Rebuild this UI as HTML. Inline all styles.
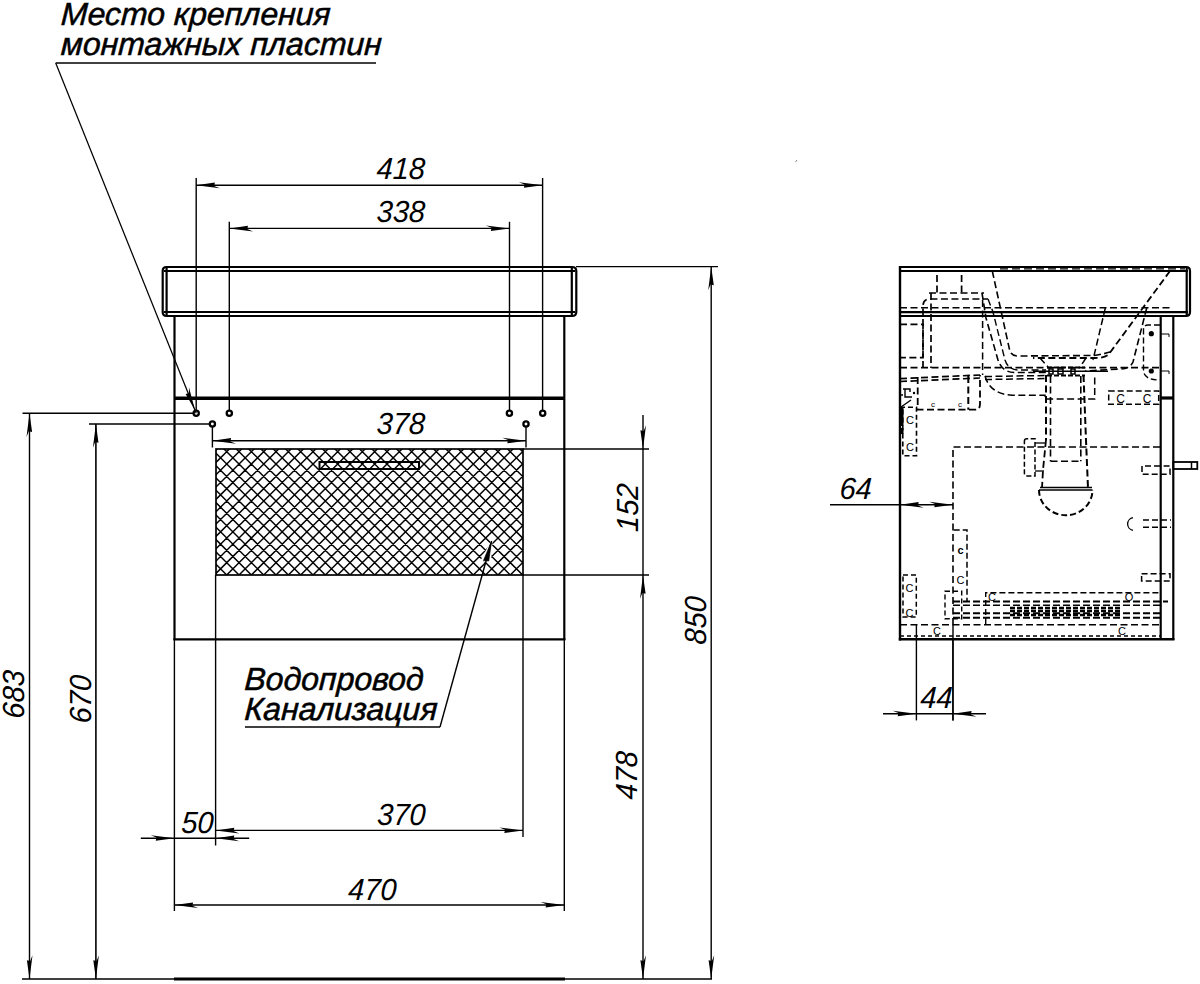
<!DOCTYPE html>
<html><head><meta charset="utf-8"><style>
html,body{margin:0;padding:0;background:#fff;width:1200px;height:984px;overflow:hidden}
svg{display:block}
svg text{font-family:"Liberation Sans",sans-serif;font-style:italic}
svg text.s{font-style:normal}
</style></head><body>
<svg width="1200" height="984" viewBox="0 0 1200 984">
<rect x="0" y="0" width="1200" height="984" fill="#fff" stroke="none"/>
<g stroke="#000" fill="none">
<text x="0" y="0" font-size="32" text-anchor="start" transform="translate(60.5,24.8) skewX(-3)" fill="#000" stroke="#000" stroke-width="0.5">Место крепления</text>
<text x="0" y="0" font-size="32" text-anchor="start" transform="translate(60.5,54.8) skewX(-3)" fill="#000" stroke="#000" stroke-width="0.5">монтажных пластин</text>
<line x1="55.7" y1="63" x2="376" y2="63" stroke-width="1.5" />
<line x1="55.7" y1="63" x2="196.2" y2="413.3" stroke-width="1.25" />
<path transform="translate(195.01,410.33) rotate(68.15)" d="M0,0 L-23.7,-3 L-18,-0.7 L-18.7,2.6 Z" fill="#000" stroke="none"/>
<path d="M166.5,267 L572,267 Q576.3,267 576.3,271 L576.3,312 Q576.3,316 572,316 L166.5,316 Q162.7,316 162.7,312 L162.7,271 Q162.7,267 166.5,267 Z" stroke-width="2.2" />
<line x1="164" y1="271" x2="575" y2="271" stroke-width="2.2" />
<line x1="164" y1="312" x2="575" y2="312" stroke-width="2.2" />
<line x1="166.6" y1="268" x2="166.6" y2="315" stroke-width="2.2" />
<line x1="571.8" y1="268" x2="571.8" y2="315" stroke-width="2.2" />
<line x1="174.5" y1="316" x2="174.5" y2="640" stroke-width="2.2" />
<line x1="564.3" y1="316" x2="564.3" y2="640" stroke-width="2.2" />
<line x1="173.4" y1="639.3" x2="565.4" y2="639.3" stroke-width="2.2" />
<line x1="174.5" y1="398.3" x2="564.3" y2="398.3" stroke-width="3.4" />
<line x1="196.2" y1="178" x2="196.2" y2="410.2" stroke-width="1.4" />
<line x1="542.6" y1="178" x2="542.6" y2="410.2" stroke-width="1.4" />
<line x1="196.2" y1="185.2" x2="542.6" y2="185.2" stroke-width="1.4" />
<path transform="translate(196.2,185.2) rotate(180)" d="M0,0 L-23.7,-3 L-18,-0.7 L-18.7,2.6 Z" fill="#000" stroke="none"/>
<path transform="translate(542.6,185.2) rotate(0)" d="M0,0 L-23.7,-3 L-18,-0.7 L-18.7,2.6 Z" fill="#000" stroke="none"/>
<line x1="229.3" y1="221.8" x2="229.3" y2="410.2" stroke-width="1.4" />
<line x1="509.5" y1="221.8" x2="509.5" y2="410.2" stroke-width="1.4" />
<line x1="229.3" y1="228.4" x2="509.5" y2="228.4" stroke-width="1.4" />
<path transform="translate(229.3,228.4) rotate(180)" d="M0,0 L-23.7,-3 L-18,-0.7 L-18.7,2.6 Z" fill="#000" stroke="none"/>
<path transform="translate(509.5,228.4) rotate(0)" d="M0,0 L-23.7,-3 L-18,-0.7 L-18.7,2.6 Z" fill="#000" stroke="none"/>
<circle cx="196.2" cy="413.3" r="2.6" stroke-width="2.3"/>
<circle cx="229.3" cy="413.3" r="2.6" stroke-width="2.3"/>
<circle cx="509.4" cy="413.3" r="2.6" stroke-width="2.3"/>
<circle cx="542.7" cy="413.3" r="2.6" stroke-width="2.3"/>
<circle cx="212.4" cy="424" r="2.6" stroke-width="2.3"/>
<circle cx="526" cy="424" r="2.6" stroke-width="2.3"/>
<line x1="212.4" y1="427.1" x2="212.4" y2="447.5" stroke-width="1.4" />
<line x1="526" y1="427.1" x2="526" y2="447.5" stroke-width="1.4" />
<line x1="212.4" y1="440.7" x2="526" y2="440.7" stroke-width="1.4" />
<path transform="translate(212.4,440.7) rotate(180)" d="M0,0 L-23.7,-3 L-18,-0.7 L-18.7,2.6 Z" fill="#000" stroke="none"/>
<path transform="translate(526,440.7) rotate(0)" d="M0,0 L-23.7,-3 L-18,-0.7 L-18.7,2.6 Z" fill="#000" stroke="none"/>
<line x1="22.5" y1="413.3" x2="193" y2="413.3" stroke-width="1.4" />
<line x1="29.5" y1="413.3" x2="29.5" y2="979" stroke-width="1.4" />
<path transform="translate(29.5,413.3) rotate(-90)" d="M0,0 L-23.7,-3 L-18,-0.7 L-18.7,2.6 Z" fill="#000" stroke="none"/>
<path transform="translate(29.5,979) rotate(90)" d="M0,0 L-23.7,-3 L-18,-0.7 L-18.7,2.6 Z" fill="#000" stroke="none"/>
<line x1="89" y1="424" x2="209.3" y2="424" stroke-width="1.4" />
<line x1="95.9" y1="424" x2="95.9" y2="979" stroke-width="1.6" />
<path transform="translate(95.9,424) rotate(-90)" d="M0,0 L-23.7,-3 L-18,-0.7 L-18.7,2.6 Z" fill="#000" stroke="none"/>
<path transform="translate(95.9,979) rotate(90)" d="M0,0 L-23.7,-3 L-18,-0.7 L-18.7,2.6 Z" fill="#000" stroke="none"/>
<line x1="22" y1="979" x2="712" y2="979" stroke-width="1.4" />
<line x1="174" y1="979" x2="565" y2="979" stroke-width="3.2" />
<line x1="576" y1="266.6" x2="718" y2="266.6" stroke-width="1.4" />
<line x1="711.2" y1="266.6" x2="711.2" y2="979" stroke-width="1.4" />
<path transform="translate(711.2,266.6) rotate(-90)" d="M0,0 L-23.7,-3 L-18,-0.7 L-18.7,2.6 Z" fill="#000" stroke="none"/>
<path transform="translate(711.2,979) rotate(90)" d="M0,0 L-23.7,-3 L-18,-0.7 L-18.7,2.6 Z" fill="#000" stroke="none"/>
<line x1="523" y1="449" x2="649" y2="449" stroke-width="1.4" />
<line x1="523" y1="575" x2="649" y2="575" stroke-width="1.4" />
<line x1="643" y1="415" x2="643" y2="979" stroke-width="1.4" />
<path transform="translate(643,449) rotate(90)" d="M0,0 L-23.7,-3 L-18,-0.7 L-18.7,2.6 Z" fill="#000" stroke="none"/>
<path transform="translate(643,575) rotate(-90)" d="M0,0 L-23.7,-3 L-18,-0.7 L-18.7,2.6 Z" fill="#000" stroke="none"/>
<path transform="translate(643,979) rotate(90)" d="M0,0 L-23.7,-3 L-18,-0.7 L-18.7,2.6 Z" fill="#000" stroke="none"/>
<clipPath id="hc"><rect x="216" y="449" width="307" height="126"/></clipPath>
<path clip-path="url(#hc)" stroke-width="1.45" d="M-524.80,440 L-379.80,585 M-512.47,440 L-367.47,585 M-500.14,440 L-355.14,585 M-487.81,440 L-342.81,585 M-475.48,440 L-330.48,585 M-463.15,440 L-318.15,585 M-450.82,440 L-305.82,585 M-438.49,440 L-293.49,585 M-426.16,440 L-281.16,585 M-413.83,440 L-268.83,585 M-401.50,440 L-256.50,585 M-389.17,440 L-244.17,585 M-376.84,440 L-231.84,585 M-364.51,440 L-219.51,585 M-352.18,440 L-207.18,585 M-339.85,440 L-194.85,585 M-327.52,440 L-182.52,585 M-315.19,440 L-170.19,585 M-302.86,440 L-157.86,585 M-290.53,440 L-145.53,585 M-278.20,440 L-133.20,585 M-265.87,440 L-120.87,585 M-253.54,440 L-108.54,585 M-241.21,440 L-96.21,585 M-228.88,440 L-83.88,585 M-216.55,440 L-71.55,585 M-204.22,440 L-59.22,585 M-191.89,440 L-46.89,585 M-179.56,440 L-34.56,585 M-167.23,440 L-22.23,585 M-154.90,440 L-9.90,585 M-142.57,440 L2.43,585 M-130.24,440 L14.76,585 M-117.91,440 L27.09,585 M-105.58,440 L39.42,585 M-93.25,440 L51.75,585 M-80.92,440 L64.08,585 M-68.59,440 L76.41,585 M-56.26,440 L88.74,585 M-43.93,440 L101.07,585 M-31.60,440 L113.40,585 M-19.27,440 L125.73,585 M-6.94,440 L138.06,585 M5.39,440 L150.39,585 M17.72,440 L162.72,585 M30.05,440 L175.05,585 M42.38,440 L187.38,585 M54.71,440 L199.71,585 M67.04,440 L212.04,585 M79.37,440 L224.37,585 M91.70,440 L236.70,585 M104.03,440 L249.03,585 M116.36,440 L261.36,585 M128.69,440 L273.69,585 M141.02,440 L286.02,585 M153.35,440 L298.35,585 M165.68,440 L310.68,585 M178.01,440 L323.01,585 M190.34,440 L335.34,585 M202.67,440 L347.67,585 M215.00,440 L360.00,585 M227.33,440 L372.33,585 M239.66,440 L384.66,585 M251.99,440 L396.99,585 M264.32,440 L409.32,585 M276.65,440 L421.65,585 M288.98,440 L433.98,585 M301.31,440 L446.31,585 M313.64,440 L458.64,585 M325.97,440 L470.97,585 M338.30,440 L483.30,585 M350.63,440 L495.63,585 M362.96,440 L507.96,585 M375.29,440 L520.29,585 M387.62,440 L532.62,585 M399.95,440 L544.95,585 M412.28,440 L557.28,585 M424.61,440 L569.61,585 M436.94,440 L581.94,585 M449.27,440 L594.27,585 M461.60,440 L606.60,585 M473.93,440 L618.93,585 M486.26,440 L631.26,585 M498.59,440 L643.59,585 M510.92,440 L655.92,585 M523.25,440 L668.25,585 M-501.40,440 L-646.40,585 M-489.07,440 L-634.07,585 M-476.74,440 L-621.74,585 M-464.41,440 L-609.41,585 M-452.08,440 L-597.08,585 M-439.75,440 L-584.75,585 M-427.42,440 L-572.42,585 M-415.09,440 L-560.09,585 M-402.76,440 L-547.76,585 M-390.43,440 L-535.43,585 M-378.10,440 L-523.10,585 M-365.77,440 L-510.77,585 M-353.44,440 L-498.44,585 M-341.11,440 L-486.11,585 M-328.78,440 L-473.78,585 M-316.45,440 L-461.45,585 M-304.12,440 L-449.12,585 M-291.79,440 L-436.79,585 M-279.46,440 L-424.46,585 M-267.13,440 L-412.13,585 M-254.80,440 L-399.80,585 M-242.47,440 L-387.47,585 M-230.14,440 L-375.14,585 M-217.81,440 L-362.81,585 M-205.48,440 L-350.48,585 M-193.15,440 L-338.15,585 M-180.82,440 L-325.82,585 M-168.49,440 L-313.49,585 M-156.16,440 L-301.16,585 M-143.83,440 L-288.83,585 M-131.50,440 L-276.50,585 M-119.17,440 L-264.17,585 M-106.84,440 L-251.84,585 M-94.51,440 L-239.51,585 M-82.18,440 L-227.18,585 M-69.85,440 L-214.85,585 M-57.52,440 L-202.52,585 M-45.19,440 L-190.19,585 M-32.86,440 L-177.86,585 M-20.53,440 L-165.53,585 M-8.20,440 L-153.20,585 M4.13,440 L-140.87,585 M16.46,440 L-128.54,585 M28.79,440 L-116.21,585 M41.12,440 L-103.88,585 M53.45,440 L-91.55,585 M65.78,440 L-79.22,585 M78.11,440 L-66.89,585 M90.44,440 L-54.56,585 M102.77,440 L-42.23,585 M115.10,440 L-29.90,585 M127.43,440 L-17.57,585 M139.76,440 L-5.24,585 M152.09,440 L7.09,585 M164.42,440 L19.42,585 M176.75,440 L31.75,585 M189.08,440 L44.08,585 M201.41,440 L56.41,585 M213.74,440 L68.74,585 M226.07,440 L81.07,585 M238.40,440 L93.40,585 M250.73,440 L105.73,585 M263.06,440 L118.06,585 M275.39,440 L130.39,585 M287.72,440 L142.72,585 M300.05,440 L155.05,585 M312.38,440 L167.38,585 M324.71,440 L179.71,585 M337.04,440 L192.04,585 M349.37,440 L204.37,585 M361.70,440 L216.70,585 M374.03,440 L229.03,585 M386.36,440 L241.36,585 M398.69,440 L253.69,585 M411.02,440 L266.02,585 M423.35,440 L278.35,585 M435.68,440 L290.68,585 M448.01,440 L303.01,585 M460.34,440 L315.34,585 M472.67,440 L327.67,585 M485.00,440 L340.00,585 M497.33,440 L352.33,585 M509.66,440 L364.66,585 M521.99,440 L376.99,585 M534.32,440 L389.32,585 M546.65,440 L401.65,585 M558.98,440 L413.98,585 M571.31,440 L426.31,585 M583.64,440 L438.64,585 M595.97,440 L450.97,585 M608.30,440 L463.30,585 M620.63,440 L475.63,585 M632.96,440 L487.96,585 M645.29,440 L500.29,585 M657.62,440 L512.62,585"/>
<rect x="216" y="449" width="307" height="126" stroke-width="1.7"/>
<rect x="319.5" y="462" width="99.5" height="7" stroke-width="2"/>
<path transform="translate(491.6,541) rotate(-74.49)" d="M4,0 L-22,-5.5 L-22,5.5 Z" fill="#fff" stroke="none"/>
<line x1="440" y1="727" x2="491.6" y2="541" stroke-width="1.4" />
<path transform="translate(491.6,541) rotate(-74.49)" d="M0,0 L-21,-2.6 L-20,2.6 Z" fill="#000" stroke="#000" stroke-width="0.6"/>
<line x1="245" y1="727" x2="440" y2="727" stroke-width="1.4" />
<text x="0" y="0" font-size="32" text-anchor="start" transform="translate(244,689.6) skewX(-3)" fill="#000" stroke="#000" stroke-width="0.5">Водопровод</text>
<text x="0" y="0" font-size="32" text-anchor="start" transform="translate(244,719.6) skewX(-3)" fill="#000" stroke="#000" stroke-width="0.5">Канализация</text>
<line x1="174.4" y1="640" x2="174.4" y2="911" stroke-width="1.4" />
<line x1="215.6" y1="575" x2="215.6" y2="845.5" stroke-width="1.4" />
<line x1="140.8" y1="838.2" x2="249.2" y2="838.2" stroke-width="1.4" />
<path transform="translate(174.4,838.2) rotate(0)" d="M0,0 L-23.7,-3 L-18,-0.7 L-18.7,2.6 Z" fill="#000" stroke="none"/>
<path transform="translate(215.6,838.2) rotate(180)" d="M0,0 L-23.7,-3 L-18,-0.7 L-18.7,2.6 Z" fill="#000" stroke="none"/>
<line x1="523" y1="575" x2="523" y2="837" stroke-width="1.4" />
<line x1="215.6" y1="830.4" x2="523" y2="830.4" stroke-width="1.4" />
<path transform="translate(215.6,830.4) rotate(180)" d="M0,0 L-23.7,-3 L-18,-0.7 L-18.7,2.6 Z" fill="#000" stroke="none"/>
<path transform="translate(523,830.4) rotate(0)" d="M0,0 L-23.7,-3 L-18,-0.7 L-18.7,2.6 Z" fill="#000" stroke="none"/>
<line x1="564.3" y1="640" x2="564.3" y2="911" stroke-width="1.4" />
<line x1="174.4" y1="905" x2="564.3" y2="905" stroke-width="1.4" />
<path transform="translate(174.4,905) rotate(180)" d="M0,0 L-23.7,-3 L-18,-0.7 L-18.7,2.6 Z" fill="#000" stroke="none"/>
<path transform="translate(564.3,905) rotate(0)" d="M0,0 L-23.7,-3 L-18,-0.7 L-18.7,2.6 Z" fill="#000" stroke="none"/>
<text x="0" y="0" font-size="30.5" text-anchor="middle" transform="translate(400.5,178.6) scale(0.95,1) skewX(-3)" fill="#000" stroke="none" >418</text>
<text x="0" y="0" font-size="30.5" text-anchor="middle" transform="translate(400.5,221.5) scale(0.95,1) skewX(-3)" fill="#000" stroke="none" >338</text>
<text x="0" y="0" font-size="30.5" text-anchor="middle" transform="translate(400.5,434.3) scale(0.95,1) skewX(-3)" fill="#000" stroke="none" >378</text>
<text x="0" y="0" font-size="30.5" text-anchor="middle" transform="translate(197,832.5) scale(0.95,1) skewX(-3)" fill="#000" stroke="none" >50</text>
<text x="0" y="0" font-size="30.5" text-anchor="middle" transform="translate(401,825) scale(0.95,1) skewX(-3)" fill="#000" stroke="none" >370</text>
<text x="0" y="0" font-size="30.5" text-anchor="middle" transform="translate(372,900) scale(0.95,1) skewX(-3)" fill="#000" stroke="none" >470</text>
<text x="0" y="0" font-size="30.5" text-anchor="middle" transform="translate(23.9,694.8) rotate(-90) scale(0.95,1) skewX(-3)" fill="#000" stroke="none" >683</text>
<text x="0" y="0" font-size="30.5" text-anchor="middle" transform="translate(90.8,699.5) rotate(-90) scale(0.95,1) skewX(-3)" fill="#000" stroke="none" >670</text>
<text x="0" y="0" font-size="30.5" text-anchor="middle" transform="translate(638.4,508) rotate(-90) scale(0.95,1) skewX(-3)" fill="#000" stroke="none" >152</text>
<text x="0" y="0" font-size="30.5" text-anchor="middle" transform="translate(637.4,775.8) rotate(-90) scale(0.95,1) skewX(-3)" fill="#000" stroke="none" >478</text>
<text x="0" y="0" font-size="30.5" text-anchor="middle" transform="translate(706,620.8) rotate(-90) scale(0.95,1) skewX(-3)" fill="#000" stroke="none" >850</text>
<text x="0" y="0" font-size="30.5" text-anchor="middle" transform="translate(855.3,499) scale(0.95,1) skewX(-3)" fill="#000" stroke="none" >64</text>
<text x="0" y="0" font-size="30.5" text-anchor="middle" transform="translate(936,707.8) scale(0.95,1) skewX(-3)" fill="#000" stroke="none" >44</text>
<line x1="795.5" y1="162" x2="797" y2="160" stroke="#888" stroke-width="1"/>
<path d="M900,267 L1186,267 Q1190,267 1190,271 L1190,312 Q1190,316 1186,316 L900,316" stroke-width="2.2" />
<line x1="900" y1="271" x2="1188" y2="271" stroke-width="2.2" />
<line x1="900" y1="312.2" x2="1188" y2="312.2" stroke-width="2.2" />
<line x1="1186.7" y1="268" x2="1186.7" y2="315" stroke-width="2.2" />
<line x1="1000" y1="268.8" x2="1185" y2="268.8" stroke-width="1.2" stroke-dasharray="8 4" />
<line x1="900" y1="266" x2="900" y2="640.5" stroke-width="2.4" />
<line x1="898.8" y1="639.3" x2="1174.5" y2="639.3" stroke-width="2.4" />
<line x1="1160.7" y1="316" x2="1160.7" y2="640" stroke-width="2.2" />
<line x1="1173.3" y1="316" x2="1173.3" y2="640" stroke-width="2.2" />
<line x1="1160.7" y1="398" x2="1173.3" y2="398" stroke-width="3.2" />
<rect x="1173.3" y="462" width="24" height="7" stroke-width="1.8"/>
<line x1="1191.5" y1="462" x2="1191.5" y2="469" stroke-width="1.5" />
<line x1="900" y1="307.8" x2="1173" y2="307.8" stroke-width="1.6" stroke-dasharray="7 3.5" />
<line x1="937" y1="275" x2="937" y2="293" stroke-width="1.7" stroke-dasharray="7 3.5" />
<line x1="961.6" y1="275" x2="961.6" y2="293" stroke-width="1.7" stroke-dasharray="7 3.5" />
<path d="M929,293 L984,293" stroke-width="1.7" stroke-dasharray="7 3.5" />
<path d="M923,368 L923,306 Q923,299 930,299 L988,299" stroke-width="1.7" stroke-dasharray="7 3.5" />
<line x1="931" y1="293" x2="931" y2="368" stroke-width="1.7" stroke-dasharray="7 3.5" />
<path d="M900,324.3 L923,324.3 L923,357.7 L900,357.7" stroke-width="1.7" stroke-dasharray="7 3.5" />
<line x1="900" y1="367.6" x2="1160" y2="367.6" stroke-width="1.6" stroke-dasharray="7 3.5" />
<path d="M982,293 L986,318 L998,360 Q1002,372 1014,372.5 L1046,372.5" stroke-width="1.6" stroke-dasharray="7 3.5" />
<path d="M988,299 L993,312 L1005,360 Q1008,369.5 1018,370 L1046,370" stroke-width="1.4" stroke-dasharray="7 3.5" />
<path d="M992.3,271 L1009.6,350 Q1011,356 1018,356 L1093,355.5 Q1100,355 1110,352" stroke-width="1.6" stroke-dasharray="7 3.5" />
<path d="M1170,271 L1109,354 Q1105,358 1095,358 L1033,358" stroke-width="1.8" stroke-dasharray="7 3.5" />
<path d="M1105.3,308 L1093,360" stroke-width="1.5" stroke-dasharray="7 3.5" />
<path d="M1146.7,308 L1133,362 Q1130,369 1120,369 L1085,371" stroke-width="1.6" stroke-dasharray="7 3.5" />
<line x1="1047" y1="367.5" x2="1085" y2="367.5" stroke-width="2.2" stroke-dasharray="5 2" />
<line x1="1047" y1="375.5" x2="1085" y2="375.5" stroke-width="2.2" stroke-dasharray="5 2" />
<path d="M1058,369 h5 v5 h-5 Z M1071,369 h4 v5 h-4 Z M1049,369 h4 v5 h-4 Z" stroke-width="1.5"/>
<line x1="1033" y1="371.3" x2="1108" y2="371.3" stroke-width="1.6" />
<path d="M1040,358 L1048,367" stroke-width="1.5" stroke-dasharray="7 3.5" />
<path d="M1086,358 L1080,367" stroke-width="1.5" stroke-dasharray="7 3.5" />
<path d="M917.7,377 L917.7,409.7 L975,409.7 Q980,409.7 980,404 L980,375" stroke-width="1.8" stroke-dasharray="7 3.5"/>
<line x1="968.3" y1="376" x2="968.3" y2="409.7" stroke-width="2" stroke-dasharray="7 3.5" />
<line x1="900" y1="378.6" x2="980" y2="375" stroke-width="1.7" stroke-dasharray="7 3.5" />
<line x1="900" y1="381.5" x2="980" y2="378" stroke-width="1.7" stroke-dasharray="7 3.5" />
<path d="M985,376 Q990,394 1012,395.3 L1045,395.3 L1045,399 L1094.7,399 L1094.7,374" stroke-width="1.5" stroke-dasharray="7 3.5" />
<line x1="982.6" y1="300" x2="982.6" y2="375" stroke-width="1.5" stroke-dasharray="7 3.5" />
<line x1="985" y1="376.5" x2="1046" y2="375.5" stroke-width="1.5" stroke-dasharray="7 3.5" />
<line x1="985" y1="379.5" x2="1046" y2="378.5" stroke-width="1.5" stroke-dasharray="7 3.5" />
<line x1="1046" y1="375" x2="1046" y2="440" stroke-width="2" stroke-dasharray="7 3.5" />
<line x1="1050.5" y1="376" x2="1050.5" y2="461.2" stroke-width="1.6" stroke-dasharray="7 3.5" />
<line x1="1080.8" y1="376" x2="1080.8" y2="461.2" stroke-width="1.6" stroke-dasharray="7 3.5" />
<line x1="1050.5" y1="461.2" x2="1080.8" y2="461.2" stroke-width="1.6" stroke-dasharray="7 3.5" />
<path d="M1083.5,375 L1086,440 L1088,488" stroke-width="2" stroke-dasharray="7 3.5" />
<path d="M1046,440 L1043,470 L1042,488" stroke-width="1.8" stroke-dasharray="7 3.5" />
<path d="M1024.4,441 Q1024.4,438.8 1027,438.8 L1035,438.8 L1035,475.9 L1027,475.9 Q1024.4,475.9 1024.4,473 Z" stroke-width="1.5" stroke-dasharray="5 2.5" />
<line x1="1035" y1="443" x2="1046" y2="443" stroke-width="1.3" />
<line x1="1035" y1="471" x2="1044" y2="471" stroke-width="1.3" />
<path d="M1039,490 L1092.5,490 M1040,487.5 L1092,487.5" stroke-width="1.6"/>
<path d="M1039,490 A26.5,25 0 0 0 1092.5,490" stroke-width="2" stroke-dasharray="6 3" />
<path d="M900,407.2 L916.5,407.2 L916.5,455.7 L902.8,455.7 L902.8,407.2" stroke-width="1.6" stroke-dasharray="5 3" />
<text x="910" y="424" font-size="11" text-anchor="middle" class="s" fill="#000" stroke="none">C</text>
<text x="910" y="450.5" font-size="11" text-anchor="middle" class="s" fill="#000" stroke="none">C</text>
<rect x="900" y="407.5" width="3.5" height="18.5" fill="#000" stroke="none"/>
<rect x="900" y="428" width="3.5" height="6" fill="#000" stroke="none"/>
<path d="M903,389 L910,389 L910,392 M905,389 L905,397 L912,397 M911,400 L901,407" stroke-width="1.4" />
<circle cx="914" cy="393" r="1.2" fill="#000" stroke="none"/>
<line x1="900" y1="395" x2="903" y2="395" stroke-width="1.5" />
<path d="M903,575 L916.3,575 L916.3,617 L903,617 Z" stroke-width="1.5" stroke-dasharray="5 3" />
<text x="909.5" y="592" font-size="11" text-anchor="middle" class="s" fill="#000" stroke="none">C</text>
<text x="909.5" y="617" font-size="11" text-anchor="middle" class="s" fill="#000" stroke="none">C</text>
<text x="933" y="407" font-size="8" text-anchor="middle" class="s" fill="#000" stroke="none">c</text>
<text x="960" y="407" font-size="8" text-anchor="middle" class="s" fill="#000" stroke="none">c</text>
<path d="M953,625 L953,447 L1160,447" stroke-width="1.6" stroke-dasharray="7 3.5" />
<line x1="953" y1="625" x2="953" y2="720.4" stroke-width="1.4" />
<path d="M1108.7,391 L1158.7,391 L1158.7,404.3 L1108.7,404.3 Z" stroke-width="1.5" stroke-dasharray="6 3" />
<text x="1120.5" y="402.5" font-size="12" text-anchor="middle" class="s" fill="#000" stroke="none">C</text>
<text x="1147" y="402.5" font-size="12" text-anchor="middle" class="s" fill="#000" stroke="none">C</text>
<path d="M1160,325 L1148,325 Q1143.5,325 1143.5,330 L1143.5,370 Q1143.5,380 1160,380" stroke-width="1.4" stroke-dasharray="6 3" />
<circle cx="1151.3" cy="333.7" r="2.6" fill="#000" stroke="none"/>
<circle cx="1151.3" cy="371" r="2.6" fill="#000" stroke="none"/>
<path d="M1161,334 L1169,334 L1169,337" stroke-width="1" />
<path d="M1161,371 L1169,371 L1169,374" stroke-width="1" />
<path d="M1160,466 L1142,466 L1142,474.3 L1170,474.3 L1170,466 L1160,466" stroke-width="1.5" stroke-dasharray="6 3" />
<path d="M1143,520 L1171,520 M1143,527.3 L1171,527.3" stroke-width="1.5" stroke-dasharray="6 3" />
<path d="M1133,517.6 A6.5,6.5 0 0 0 1133,530.4" stroke-width="1.3" />
<path d="M1141.6,573.7 L1170,573.7 L1170,581 L1141.6,581 Z" stroke-width="1.5" stroke-dasharray="6 3" />
<path d="M953.7,530 L967,530 L967,601" stroke-width="1.5" stroke-dasharray="6 3" />
<text x="960.5" y="554" font-size="11" text-anchor="middle" font-weight="bold" class="s" fill="#000" stroke="none">c</text>
<text x="960.5" y="584" font-size="11" text-anchor="middle" class="s" fill="#000" stroke="none">C</text>
<path d="M945,591.3 L961.7,591.3 L961.7,618.7 L945,618.7 Z" stroke-width="1.4" stroke-dasharray="5 3" />
<path d="M985.7,624 L985.7,592.7 L1160,592.7" stroke-width="1.4" stroke-dasharray="6 3" />
<line x1="953" y1="601.5" x2="1168" y2="601.5" stroke-width="2" stroke-dasharray="7 3" />
<line x1="953" y1="605.3" x2="1160" y2="605.3" stroke-width="1.6" stroke-dasharray="7 3" />
<line x1="953" y1="613.3" x2="1160" y2="613.3" stroke-width="2" stroke-dasharray="7 3" />
<line x1="953" y1="617.8" x2="1160" y2="617.8" stroke-width="2" stroke-dasharray="7 3" />
<line x1="1010" y1="608" x2="1120" y2="608" stroke-width="2.5" stroke-dasharray="5 2" />
<line x1="1010" y1="611" x2="1120" y2="611" stroke-width="2.5" stroke-dasharray="5 2" />
<line x1="1010" y1="615" x2="1120" y2="615" stroke-width="2.5" stroke-dasharray="5 2" />
<line x1="900" y1="624.7" x2="1160" y2="624.7" stroke-width="1.6" stroke-dasharray="7 3.5" />
<line x1="900" y1="636" x2="1160" y2="636" stroke-width="1.4" stroke-dasharray="4 3" />
<text x="937" y="635" font-size="11" text-anchor="middle" class="s" fill="#000" stroke="none">C</text>
<text x="1122" y="635" font-size="11" text-anchor="middle" class="s" fill="#000" stroke="none">C</text>
<text x="992" y="601" font-size="11" text-anchor="middle" class="s" fill="#000" stroke="none">C</text>
<text x="1129" y="601" font-size="11" text-anchor="middle" class="s" fill="#000" stroke="none">O</text>
<line x1="830" y1="504.7" x2="953" y2="504.7" stroke-width="1.4" />
<path transform="translate(900,504.7) rotate(180)" d="M0,0 L-23.7,-3 L-18,-0.7 L-18.7,2.6 Z" fill="#000" stroke="none"/>
<path transform="translate(953,504.7) rotate(0)" d="M0,0 L-23.7,-3 L-18,-0.7 L-18.7,2.6 Z" fill="#000" stroke="none"/>
<line x1="916.4" y1="625" x2="916.4" y2="720.4" stroke-width="1.4" />
<line x1="952.9" y1="640" x2="952.9" y2="720.4" stroke-width="1.4" />
<line x1="883" y1="713.7" x2="986" y2="713.7" stroke-width="1.4" />
<path transform="translate(916.4,713.7) rotate(0)" d="M0,0 L-23.7,-3 L-18,-0.7 L-18.7,2.6 Z" fill="#000" stroke="none"/>
<path transform="translate(952.9,713.7) rotate(180)" d="M0,0 L-23.7,-3 L-18,-0.7 L-18.7,2.6 Z" fill="#000" stroke="none"/>
</g>
</svg>
</body></html>
